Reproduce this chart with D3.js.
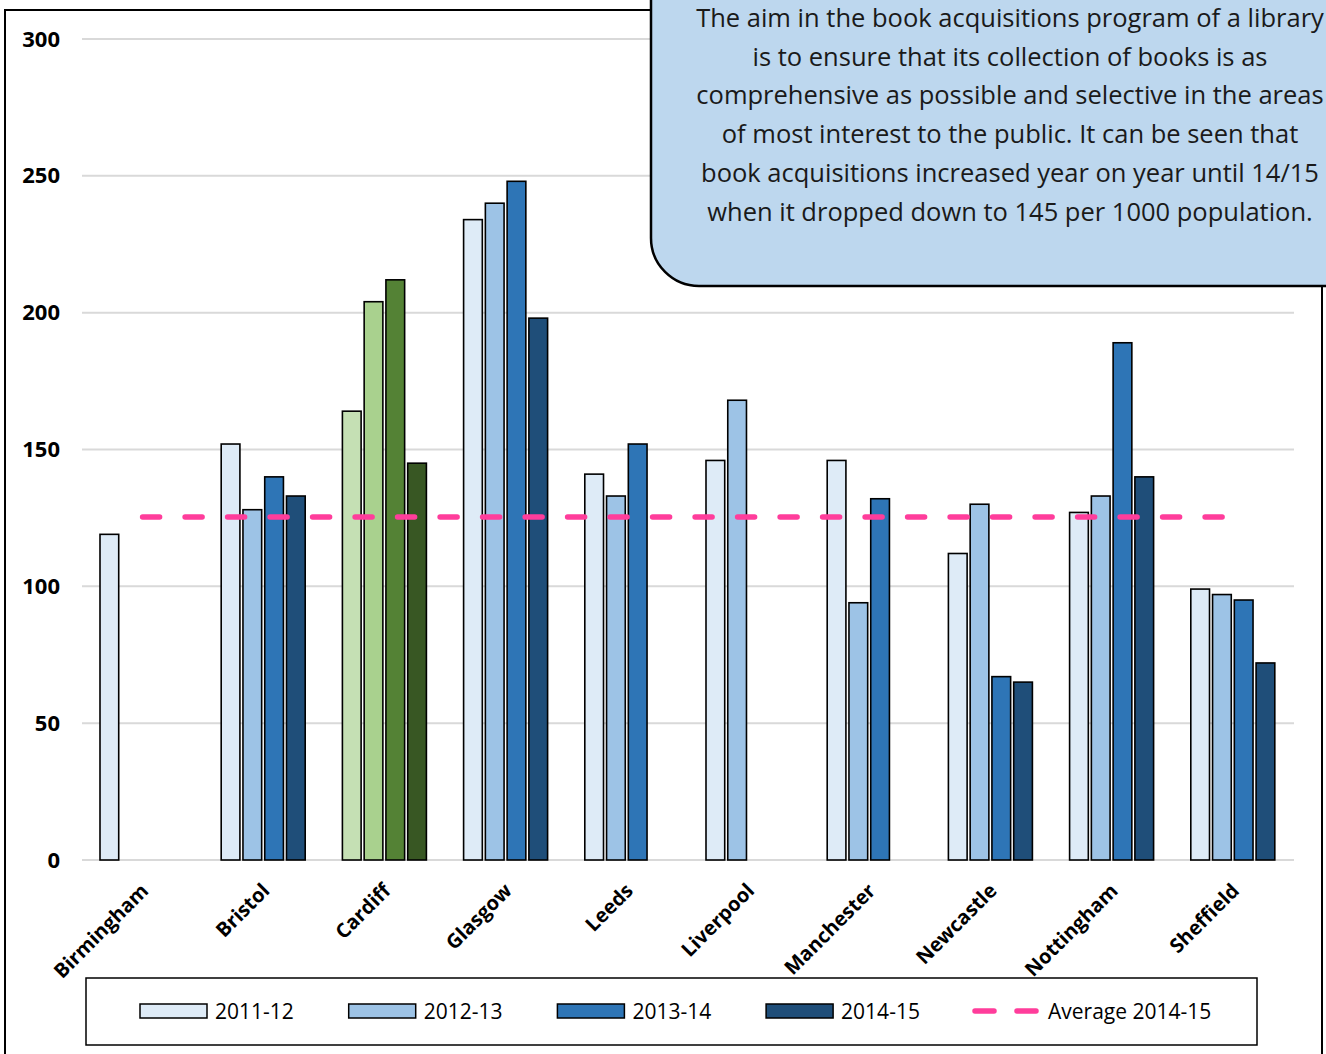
<!DOCTYPE html>
<html>
<head>
<meta charset="utf-8">
<script src="https://cdn.jsdelivr.net/npm/d3@7"></script>
<style>
  body { margin: 0; background: #fff; }
  svg { display: block; }
</style>
</head>
<body>
<div id="chart"></div>
<script>
// data
const cities = ["Birmingham", "Bristol", "Cardiff", "Glasgow", "Leeds", "Liverpool", "Manchester", "Newcastle", "Nottingham", "Sheffield"];
const seriesNames = ["2011-12", "2012-13", "2013-14", "2014-15"];
const v2011 = [119, 152, 164, 234, 141, 146, 146, 112, 127, 99];
const v2012 = [null, 128, 204, 240, 133, 168, 94, 130, 133, 97];
const v2013 = [null, 140, 212, 248, 152, null, 132, 67, 189, 95];
const v2014 = [null, 133, 145, 198, null, null, null, 65, 140, 72];
const average = 125.3;
const yTicks = [0, 50, 100, 150, 200, 250, 300];
const noteLines = [
    "The aim in the book acquisitions program of a library",
    "is to ensure that its collection of books is as",
    "comprehensive as possible and selective in the areas",
    "of most interest to the public. It can be seen that",
    "book acquisitions increased year on year until 14/15",
    "when it dropped down to 145 per 1000 population."
];

const blues = ["#deebf7", "#9dc3e6", "#2e75b6", "#1f4e79"];
const greens = ["#c5e0b4", "#a9d18e", "#548235", "#385723"];
const highlight = "Cardiff";

const allSeries = [v2011, v2012, v2013, v2014];
const rows = [];
cities.forEach((c, i) => {
    allSeries.forEach((s, j) => {
        if (s[i] != null) rows.push({ city: c, series: seriesNames[j], idx: j, value: s[i] });
    });
});

const W = 1326, H = 1054;
const svg = d3.select("#chart").append("svg")
    .attr("width", W)
    .attr("height", H)
    .style("font-family", "'Open Sans', sans-serif");

// outer frame
svg.append("rect")
    .attr("x", 5).attr("y", 10)
    .attr("width", 1317).attr("height", 1070)
    .attr("fill", "#fff")
    .attr("stroke", "#000")
    .attr("stroke-width", 2);

const x0 = d3.scaleBand().domain(cities).range([82, 1294]);
const x1 = d3.scaleBand().domain(seriesNames).range([18, 102]).paddingInner(0.14);
const y = d3.scaleLinear().domain([0, 300]).range([860, 39]);

// gridlines
svg.append("g")
    .selectAll("line")
    .data(yTicks)
    .enter()
    .append("line")
    .attr("x1", 82).attr("x2", 1294)
    .attr("y1", d => y(d)).attr("y2", d => y(d))
    .attr("stroke", "#d9d9d9")
    .attr("stroke-width", 2);

// y axis labels
const yAxis = svg.append("g")
    .attr("transform", "translate(60,0)")
    .call(d3.axisLeft(y).tickValues(yTicks).tickSize(0).tickPadding(0));
yAxis.select(".domain").remove();
yAxis.selectAll("text")
    .attr("font-family", "'Open Sans', sans-serif")
    .attr("font-size", 22)
    .attr("font-weight", "bold")
    .attr("fill", "#000");

// bars
svg.append("g")
    .selectAll("rect")
    .data(rows)
    .enter()
    .append("rect")
    .attr("x", d => x0(d.city) + x1(d.series))
    .attr("y", d => y(d.value))
    .attr("width", x1.bandwidth())
    .attr("height", d => y(0) - y(d.value))
    .attr("fill", d => d.city === highlight ? greens[d.idx] : blues[d.idx])
    .attr("stroke", "#000")
    .attr("stroke-width", 1.6);

// average line
svg.append("line")
    .attr("x1", x0(cities[0]) + x0.bandwidth() / 2)
    .attr("x2", x0(cities[cities.length - 1]) + x0.bandwidth() / 2)
    .attr("y1", y(average)).attr("y2", y(average))
    .attr("stroke", "#ff3d9b")
    .attr("stroke-width", 5.5)
    .attr("stroke-linecap", "round")
    .attr("stroke-dasharray", "17,25.5");

// x labels
svg.append("g")
    .selectAll("text")
    .data(cities)
    .enter()
    .append("text")
    .attr("transform", d => `translate(${x0(d) + x0.bandwidth() / 2 + 7},892) rotate(-45)`)
    .attr("text-anchor", "end")
    .attr("font-size", 20)
    .attr("font-weight", "bold")
    .text(d => d);

// legend
const legend = svg.append("g");
legend.append("rect")
    .attr("x", 86).attr("y", 978)
    .attr("width", 1171).attr("height", 67)
    .attr("fill", "#fff")
    .attr("stroke", "#000")
    .attr("stroke-width", 1.5);

const legendItems = legend.selectAll("g.item")
    .data(seriesNames)
    .enter()
    .append("g")
    .attr("class", "item")
    .attr("transform", (d, i) => `translate(${140 + i * 208.7},0)`);
legendItems.append("rect")
    .attr("x", 0).attr("y", 1004)
    .attr("width", 67).attr("height", 14)
    .attr("fill", (d, i) => blues[i])
    .attr("stroke", "#000")
    .attr("stroke-width", 1.5);
legendItems.append("text")
    .attr("x", 75).attr("y", 1019)
    .attr("font-size", 21)
    .text(d => d);

legend.append("line")
    .attr("x1", 975).attr("x2", 1036)
    .attr("y1", 1011).attr("y2", 1011)
    .attr("stroke", "#ff3d9b")
    .attr("stroke-width", 5.5)
    .attr("stroke-linecap", "round")
    .attr("stroke-dasharray", "19,23");
legend.append("text")
    .attr("x", 1048).attr("y", 1019)
    .attr("font-size", 21)
    .text("Average 2014-15");

// callout
svg.append("rect")
    .attr("x", 651).attr("y", -60)
    .attr("width", 760).attr("height", 346)
    .attr("rx", 48).attr("ry", 48)
    .attr("fill", "#bdd7ee")
    .attr("stroke", "#000")
    .attr("stroke-width", 2.5);

svg.append("g")
    .selectAll("text")
    .data(noteLines)
    .enter()
    .append("text")
    .attr("x", 1010)
    .attr("y", (d, i) => 27 + i * 38.7)
    .attr("text-anchor", "middle")
    .attr("font-size", 25.5)
    .attr("fill", "#1a1a1a")
    .text(d => d);
</script>
</body>
</html>
